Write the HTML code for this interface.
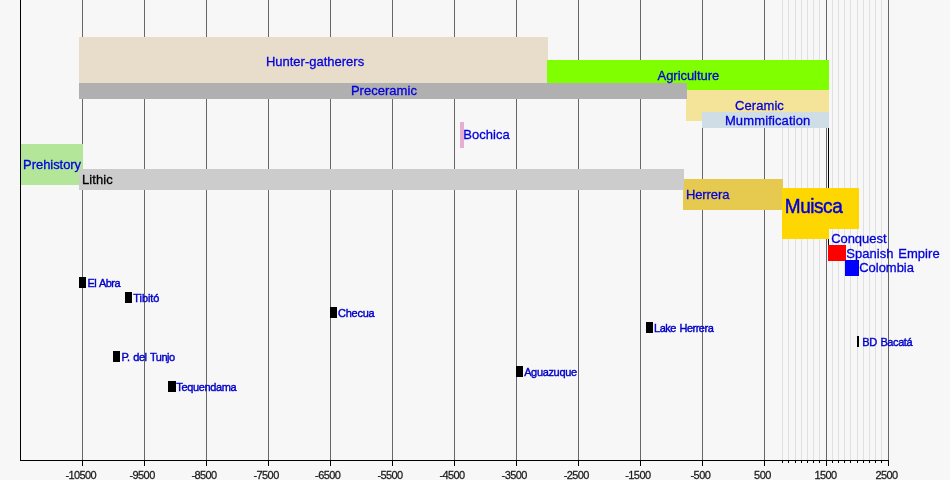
<!DOCTYPE html>
<html lang="en"><head><meta charset="utf-8"><title>Muisca timeline</title>
<style>
html,body{margin:0;padding:0}
body{width:950px;height:480px;overflow:hidden;background:#f7f7f7;position:relative;font-family:"Liberation Sans",sans-serif}
#c{position:absolute;left:0;top:0;width:950px;height:480px;overflow:hidden;background:#f7f7f7}
#c div{position:absolute}
.g{top:0;width:1px;height:460px;background:#666}
.m{top:0;width:1px;height:460px;background:#e0e0e0}
.t{top:460px;width:1px;height:6px;background:#000}
.s{top:460px;width:1px;height:3px;background:#000}
.l{white-space:nowrap;line-height:1;font-size:13px;color:#0000dc;-webkit-text-stroke:0.3px;transform:scaleY(1.05);transform-origin:0 0}
.k{white-space:nowrap;line-height:1;font-size:11px;color:#0000c8;-webkit-text-stroke:0.4px;transform:scaleY(1.05);transform-origin:0 0}
.a{white-space:nowrap;line-height:1;font-size:11px;color:#1a1a1a;-webkit-text-stroke:0.25px;top:469.5px;transform:scaleY(1.05);transform-origin:0 0}
</style></head><body><div id="c">

<div class="m" style="left:782px"></div><div class="s" style="left:782px"></div>
<div class="m" style="left:788px"></div><div class="s" style="left:788px"></div>
<div class="m" style="left:795px"></div><div class="s" style="left:795px"></div>
<div class="m" style="left:801px"></div><div class="s" style="left:801px"></div>
<div class="m" style="left:807px"></div><div class="s" style="left:807px"></div>
<div class="m" style="left:813px"></div><div class="s" style="left:813px"></div>
<div class="m" style="left:819px"></div><div class="s" style="left:819px"></div>
<div class="m" style="left:832px"></div><div class="s" style="left:832px"></div>
<div class="m" style="left:838px"></div><div class="s" style="left:838px"></div>
<div class="m" style="left:844px"></div><div class="s" style="left:844px"></div>
<div class="m" style="left:850px"></div><div class="s" style="left:850px"></div>
<div class="m" style="left:857px"></div><div class="s" style="left:857px"></div>
<div class="m" style="left:863px"></div><div class="s" style="left:863px"></div>
<div class="m" style="left:869px"></div><div class="s" style="left:869px"></div>
<div class="m" style="left:875px"></div><div class="s" style="left:875px"></div>
<div class="m" style="left:881px"></div><div class="s" style="left:881px"></div>
<div class="g" style="left:82px"></div><div class="t" style="left:82px"></div>
<div class="g" style="left:144px"></div><div class="t" style="left:144px"></div>
<div class="g" style="left:206px"></div><div class="t" style="left:206px"></div>
<div class="g" style="left:268px"></div><div class="t" style="left:268px"></div>
<div class="g" style="left:330px"></div><div class="t" style="left:330px"></div>
<div class="g" style="left:392px"></div><div class="t" style="left:392px"></div>
<div class="g" style="left:454px"></div><div class="t" style="left:454px"></div>
<div class="g" style="left:516px"></div><div class="t" style="left:516px"></div>
<div class="g" style="left:578px"></div><div class="t" style="left:578px"></div>
<div class="g" style="left:640px"></div><div class="t" style="left:640px"></div>
<div class="g" style="left:702px"></div><div class="t" style="left:702px"></div>
<div class="g" style="left:764px"></div><div class="t" style="left:764px"></div>
<div class="g" style="left:826px"></div><div class="t" style="left:826px"></div>
<div class="g" style="left:888px"></div><div class="t" style="left:888px"></div>
<div style="left:20px;top:0;width:1px;height:461px;background:#000"></div>
<div style="left:20px;top:460px;width:869px;height:1px;background:#000"></div>
<div style="left:828px;top:128px;width:1px;height:117px;background:#000000"></div>
<div style="left:79px;top:37px;width:469px;height:46px;background:#e8dccb"></div>
<div style="left:547px;top:60px;width:282px;height:30px;background:#7fff00"></div>
<div style="left:686px;top:90px;width:143px;height:31px;background:#f4e499"></div>
<div style="left:79px;top:83px;width:608px;height:16px;background:#b0b0b0"></div>
<div style="left:702px;top:112px;width:127px;height:16px;background:#cfdde6"></div>
<div style="left:460px;top:122px;width:4px;height:26px;background:#e6aecf"></div>
<div style="left:21px;top:144px;width:62px;height:41px;background:#b3e699"></div>
<div style="left:683px;top:179px;width:100px;height:31px;background:#e6c94f"></div>
<div style="left:79px;top:169px;width:605px;height:21px;background:#cccccc"></div>
<div style="left:782px;top:188px;width:77px;height:41px;background:#ffd700"></div>
<div style="left:782px;top:188px;width:47px;height:51px;background:#ffd700"></div>
<div style="left:828px;top:245px;width:18px;height:16px;background:#ff0000"></div>
<div style="left:845px;top:260px;width:14px;height:16px;background:#0000ff"></div>
<div style="left:79px;top:277px;width:7px;height:11px;background:#000"></div>
<div style="left:125px;top:292px;width:7px;height:11px;background:#000"></div>
<div style="left:330px;top:307px;width:7px;height:11px;background:#000"></div>
<div style="left:646px;top:322px;width:7px;height:11px;background:#000"></div>
<div style="left:857px;top:336px;width:2px;height:11px;background:#000"></div>
<div style="left:113px;top:351px;width:7px;height:11px;background:#000"></div>
<div style="left:516px;top:366px;width:7px;height:11px;background:#000"></div>
<div style="left:168px;top:381px;width:8px;height:11px;background:#000"></div>
<div class="l" style="left:265.89px;top:54.45px">Hunter-gatherers</div>
<div class="l" style="left:657.55px;top:68.45px;letter-spacing:-0.05px">Agriculture</div>
<div class="l" style="left:350.89px;top:83.45px;letter-spacing:0.03px">Preceramic</div>
<div class="l" style="left:734.95px;top:98.45px;letter-spacing:0.09px">Ceramic</div>
<div class="l" style="left:724.89px;top:113.45px;letter-spacing:0.14px">Mummification</div>
<div class="l" style="left:463.35px;top:127.45px;letter-spacing:0.03px">Bochica</div>
<div class="l" style="left:23.05px;top:157.45px;letter-spacing:-0.05px">Prehistory</div>
<div class="l" style="left:81.89px;top:172.45px;color:#000;letter-spacing:0.10px">Lithic</div>
<div class="l" style="left:685.89px;top:187.45px;letter-spacing:-0.08px">Herrera</div>
<div class="l" style="left:784.77px;top:195.93px;font-size:19px;letter-spacing:-0.45px;-webkit-text-stroke:0.45px;transform:scaleY(1.08)">Muisca</div>
<div class="l" style="left:831.15px;top:231.45px;letter-spacing:-0.04px">Conquest</div>
<div class="l" style="left:846.23px;top:246.45px;letter-spacing:0.05px;word-spacing:1px">Spanish Empire</div>
<div class="l" style="left:859.27px;top:260.45px;letter-spacing:-0.04px">Colombia</div>
<div class="k" style="left:87.39px;top:277.92px;letter-spacing:-0.55px;word-spacing:1px">El Abra</div>
<div class="k" style="left:133.37px;top:292.92px;letter-spacing:-0.09px">Tibitó</div>
<div class="k" style="left:338.01px;top:307.62px;letter-spacing:-0.26px">Checua</div>
<div class="k" style="left:654.07px;top:322.62px;letter-spacing:-0.50px;word-spacing:1px">Lake Herrera</div>
<div class="k" style="left:862.37px;top:336.62px;letter-spacing:-0.42px;word-spacing:1px">BD Bacatá</div>
<div class="k" style="left:121.59px;top:351.82px;letter-spacing:-0.46px;word-spacing:1px">P. del Tunjo</div>
<div class="k" style="left:524.13px;top:366.62px;letter-spacing:-0.34px">Aguazuque</div>
<div class="k" style="left:176.35px;top:381.62px;letter-spacing:-0.38px">Tequendama</div>
<div class="a" style="left:65.45px;letter-spacing:-0.60px">-10500</div>
<div class="a" style="left:129.53px;letter-spacing:-0.60px">-9500</div>
<div class="a" style="left:191.49px;letter-spacing:-0.60px">-8500</div>
<div class="a" style="left:253.53px;letter-spacing:-0.60px">-7500</div>
<div class="a" style="left:315.09px;letter-spacing:-0.60px">-6500</div>
<div class="a" style="left:377.43px;letter-spacing:-0.60px">-5500</div>
<div class="a" style="left:439.49px;letter-spacing:-0.60px">-4500</div>
<div class="a" style="left:501.59px;letter-spacing:-0.60px">-3500</div>
<div class="a" style="left:563.67px;letter-spacing:-0.60px">-2500</div>
<div class="a" style="left:625.29px;letter-spacing:-0.60px">-1500</div>
<div class="a" style="left:690.55px;letter-spacing:-0.60px">-500</div>
<div class="a" style="left:754.11px;letter-spacing:-0.60px">500</div>
<div class="a" style="left:814.55px;letter-spacing:-0.60px">1500</div>
<div class="a" style="left:875.41px;letter-spacing:-0.60px">2500</div>
</div></body></html>
